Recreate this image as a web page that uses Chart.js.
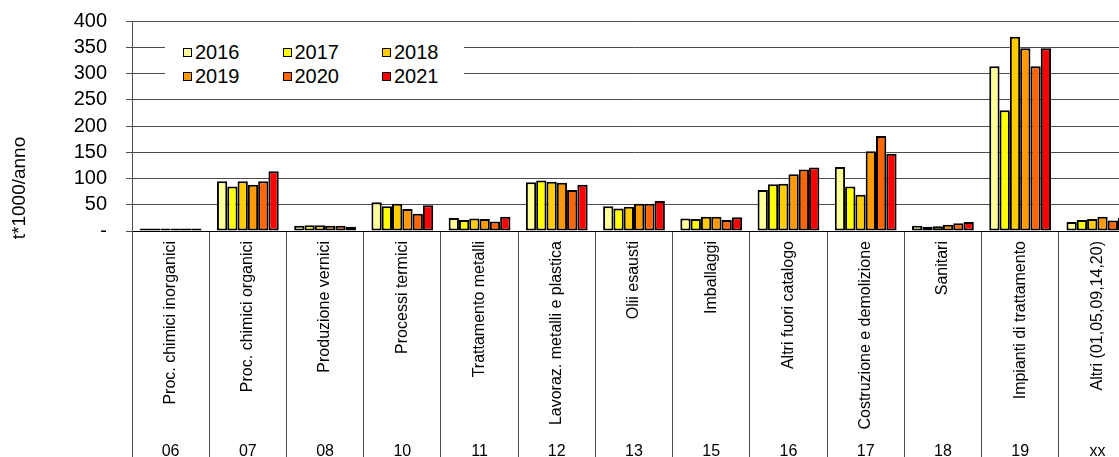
<!DOCTYPE html>
<html lang="it">
<head>
<meta charset="utf-8">
<title>Rifiuti speciali per capitolo</title>
<script src="https://cdn.jsdelivr.net/npm/chart.js@4.4.1/dist/chart.umd.min.js"></script>
<style>
    html, body { margin: 0; padding: 0; background: #fff; overflow: hidden; }
    #wrap { position: relative; width: 1136px; height: 457px; }
    #legenda {
        position: absolute; left: 165px; top: 26px; width: 299px; height: 71px;
        box-sizing: border-box; padding: 14px 0 0 18px; background: #fff;
        display: grid; grid-template-columns: repeat(3, 99.5px); grid-auto-rows: 24px;
        font: 20px "Liberation Sans", Arial, sans-serif; color: #000;
    }
    .voce { display: flex; align-items: center; line-height: 24px; }
    .voce i { width: 9px; height: 9px; box-sizing: border-box; border: 1.5px solid #000; margin-right: 3px; }
</style>
</head>
<body>
<div id="wrap">
    <canvas id="chartRifiuti" width="1136" height="457"></canvas>
    <div id="legenda"></div>
</div>
<script>
/* ===================================================
   RIFIUTI PER CAPITOLO - t*1000/anno
   =================================================== */
const capitoli = [
    'Proc. chimici inorganici', 'Proc. chimici organici', 'Produzione vernici', 'Processi termici',
    'Trattamento metalli', 'Lavoraz. metalli e plastica', 'Olii esausti', 'Imballaggi',
    'Altri fuori catalogo', 'Costruzione e demolizione', 'Sanitari', 'Impianti di trattamento',
    'Altri (01,05,09,14,20)'
];
const codici = ['06', '07', '08', '10', '11', '12', '13', '15', '16', '17', '18', '19', 'xx'];

const anni = ['2016', '2017', '2018', '2019', '2020', '2021'];
const v2016 = [5, 95, 10, 55, 25, 93, 47, 24, 78, 122, 10, 314, 17];
const v2017 = [5, 85, 11, 47, 21, 96, 43, 23, 89, 85, 8, 230, 21];
const v2018 = [5, 95, 11, 52, 24, 94, 46, 27, 90, 69, 9, 370, 23];
const v2019 = [5, 88, 10, 42, 23, 92, 52, 27, 108, 152, 12, 348, 27];
const v2020 = [5, 95, 10, 33, 18, 78, 52, 21, 117, 181, 15, 314, 20];
const v2021 = [5, 114, 8, 49, 27, 88, 57, 26, 121, 147, 17, 348, 25];
const yTicks = [0, 50, 100, 150, 200, 250, 300, 350, 400];

const colori = ['#FFFF99', '#FFFF00', '#FFCC00', '#FF9900', '#FF6600', '#FF0000'];
const serie = [v2016, v2017, v2018, v2019, v2020, v2021];

const FONT = '"Liberation Sans", Arial, sans-serif';
const GRIGIO = '#4d4d4d';
Chart.defaults.font.family = FONT;
Chart.defaults.color = '#000';

// titolo asse Y (ruotato, spostato verso il basso)
const titoloAsseY = {
    id: 'titoloAsseY',
    afterDraw(chart) {
        const ctx = chart.ctx;
        ctx.save();
        ctx.translate(20, 188);
        ctx.rotate(-Math.PI / 2);
        ctx.font = '19px ' + FONT;
        ctx.fillStyle = '#000';
        ctx.textAlign = 'center';
        ctx.textBaseline = 'middle';
        ctx.fillText('t*1000/anno', 0, 0);
        ctx.restore();
    }
};

const chart = new Chart(document.getElementById('chartRifiuti'), {
    type: 'bar',
    data: {
        labels: capitoli,
        datasets: anni.map((a, i) => ({
            label: a,
            data: serie[i],
            backgroundColor: colori[i],
            borderColor: '#000',
            borderWidth: 2,
            borderSkipped: false,
            categoryPercentage: 0.8,
            barPercentage: 1.0
        }))
    },
    options: {
        responsive: false,
        animation: false,
        devicePixelRatio: 1,
        layout: { padding: { top: 21, left: 0, right: 0, bottom: 0 } },
        plugins: { legend: { display: false }, tooltip: { enabled: false } },
        scales: {
            x: {
                offset: true,
                grid: { offset: true, drawOnChartArea: false, drawTicks: true, tickLength: 226, color: GRIGIO, lineWidth: 1 },
                border: { color: '#000', width: 1 },
                ticks: { autoSkip: false, minRotation: 90, maxRotation: 90, padding: -216, font: { size: 16 } },
                afterFit: s => { s.height = 205; }
            },
            x2: {
                type: 'category',
                labels: codici,
                position: 'bottom',
                weight: 1,
                offset: true,
                grid: { display: false },
                border: { display: false },
                ticks: { autoSkip: false, maxRotation: 0, padding: -2, font: { size: 16 } },
                afterFit: s => { s.height = 21; }
            },
            y: {
                min: 0,
                max: 400,
                afterBuildTicks: s => { s.ticks = yTicks.map(v => ({ value: v })); },
                grid: { color: GRIGIO, lineWidth: 1, tickLength: 6 },
                border: { color: GRIGIO, width: 1 },
                ticks: { autoSkip: false, padding: 19, font: { size: 20 }, callback: v => v === 0 ? '-' : v },
                afterFit: s => {
                    s.width = 132;
                    s.paddingTop = 0;
                    s.paddingBottom = 0;
                }
            }
        }
    },
    plugins: [titoloAsseY]
});

// legenda a due righe sopra l'area del grafico
document.getElementById('legenda').innerHTML = chart.data.datasets.map(d => `
    <div class="voce"><i style="background:${d.backgroundColor}"></i>${d.label}</div>
`).join('');
</script>
</body>
</html>
